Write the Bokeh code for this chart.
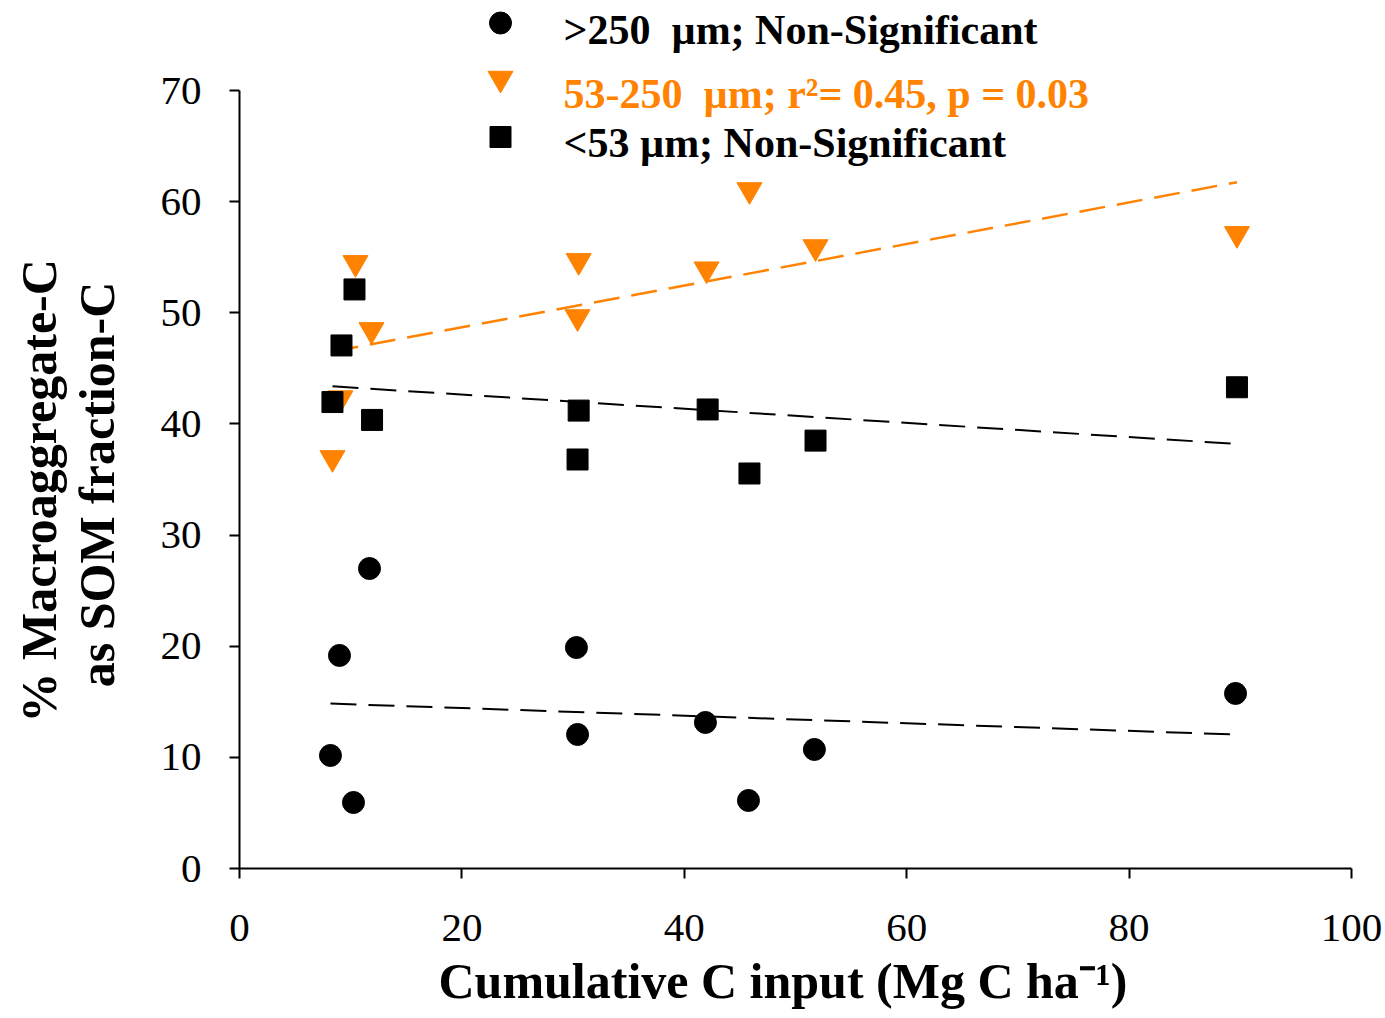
import numpy as np
from bokeh.plotting import figure
from bokeh.models import Range1d, Label, FixedTicker
from bokeh.embed import file_html
from bokeh.resources import INLINE

# ---------------- data ----------------
x_big = [8.18, 8.99, 10.25, 11.69, 30.3, 30.4, 41.9, 45.77, 51.7, 89.57]
y_big = [10.17, 19.17, 5.94, 26.99, 19.88, 12.06, 13.14, 6.12, 10.71, 15.75]

x_mid = [8.36, 9.08, 10.43, 11.87, 30.4, 30.5, 42.0, 45.86, 51.8, 89.7]
y_mid = [36.62, 42.0, 54.17, 48.14, 49.3, 54.35, 53.6, 60.73, 55.6, 56.78]

x_small = [8.36, 9.17, 10.34, 11.92, 30.5, 30.4, 42.1, 45.86, 51.8, 89.7]
y_small = [41.97, 47.06, 52.1, 40.36, 41.2, 36.8, 41.3, 35.54, 38.5, 43.3]

x_ticks = [0, 20, 40, 60, 80, 100]
y_ticks = [0, 10, 20, 30, 40, 50, 60, 70]

legend_labels = [">250\u00a0 \u00b5m; Non-Significant",
                 "53-250\u00a0 \u00b5m; r\u00b2= 0.45, p = 0.03",
                 "<53 \u00b5m; Non-Significant"]
x_title = "Cumulative C input (Mg C ha\u207b\u00b9)"
y_title_lines = ["% Macroaggregate-C", "as SOM fraction-C"]

ORANGE = "#FF8200"
FONT = "Liberation Serif"
NB = "\u00a0"

# ---------------- layout ----------------
FL, FW, FH = 239, 1112, 868
PX_PER_Y = 778.0 / 70.0
Y_TOP = FH / PX_PER_Y

p = figure(frame_width=FW, frame_height=FH,
           x_range=Range1d(0, 100), y_range=Range1d(0, Y_TOP),
           output_backend="svg", toolbar_location=None,
           min_border_left=FL, min_border_right=1385 - FL - FW,
           min_border_top=0, min_border_bottom=1018 - FH)
p.outline_line_color = None
p.background_fill_color = "white"
p.border_fill_color = "white"
p.grid.visible = False

for ax in (p.xaxis[0], p.yaxis[0]):
    ax.axis_line_width = 2
    ax.axis_line_color = "black"
    ax.major_tick_line_width = 2
    ax.major_tick_line_color = "black"
    ax.major_tick_in = 0
    ax.major_tick_out = 10
    ax.minor_tick_line_color = None
    ax.major_label_text_font = FONT
    ax.major_label_text_font_size = "41px"
    ax.major_label_text_color = "black"
    ax.axis_label_text_font = FONT
    ax.axis_label_text_font_style = "bold"
    ax.axis_label_text_font_size = "50px"
    ax.axis_label_text_color = "black"

p.xaxis.bounds = (0, 100)
p.yaxis.bounds = (0, 70)
p.xaxis.ticker = FixedTicker(ticks=x_ticks)
p.yaxis.ticker = FixedTicker(ticks=y_ticks)
p.yaxis.major_label_standoff = 28
p.xaxis.major_label_standoff = 36
# trailing no-break spaces shift the centred titles to where the reference has them
p.xaxis.axis_label = x_title + NB * 2
p.yaxis.axis_label = (y_title_lines[0] + NB * 9) + "\n" + (y_title_lines[1] + NB * 8)
p.yaxis.axis_label_text_line_height = 1.03
p.xaxis.axis_label_standoff = 9
p.yaxis.axis_label_standoff = 33

# ---------------- trend lines (least squares from the data) ----------------
def trend(xs, ys):
    k, b = np.polyfit(xs, ys, 1)
    xx = np.array([min(xs), max(xs)])
    return xx, k * xx + b

for xs, ys, col, lw in ((x_big, y_big, "black", 2),
                        (x_small, y_small, "black", 2),
                        (x_mid, y_mid, ORANGE, 2.5)):
    tx, ty = trend(xs, ys)
    p.line(tx, ty, line_color=col, line_width=lw, line_dash="26 12")

# ---------------- points ----------------
TRI = 25
tri_shift = (TRI * 0.866 / 6) / PX_PER_Y   # centre the triangle's box on the value
p.scatter(x_big, y_big, marker="circle", size=22, fill_color="black", line_color="black")
p.scatter(x_mid, np.array(y_mid) + tri_shift, marker="inverted_triangle", size=TRI,
          fill_color=ORANGE, line_color=ORANGE)
p.scatter(x_small, y_small, marker="square", size=21, fill_color="black", line_color="black")

# ---------------- legend (markers + coloured text) ----------------
LEG_X_PX = 500
leg_marker_px_y = [22.5, 78.0, 136.5]     # canvas px from top
leg_text_base_px = [29, 93, 142]
leg_markers = ["circle", "inverted_triangle", "square"]
leg_sizes = [22, 25, 21]
leg_colors = ["black", ORANGE, "black"]
lx = (LEG_X_PX - FL) / (FW / 100.0)
for m, s, c, py in zip(leg_markers, leg_sizes, leg_colors, leg_marker_px_y):
    ly = (FH - py) / PX_PER_Y
    p.scatter([lx], [ly], marker=m, size=s, fill_color=c, line_color=c)

for t, c, by in zip(legend_labels, leg_colors, leg_text_base_px):
    p.add_layout(Label(x=563 - FL, y=FH - by, x_units="screen", y_units="screen",
                       text=t, text_font=FONT, text_font_style="bold",
                       text_font_size="42px", text_color=c,
                       text_align="left", text_baseline="alphabetic"))

open("out.html", "w").write(file_html(p, INLINE))
